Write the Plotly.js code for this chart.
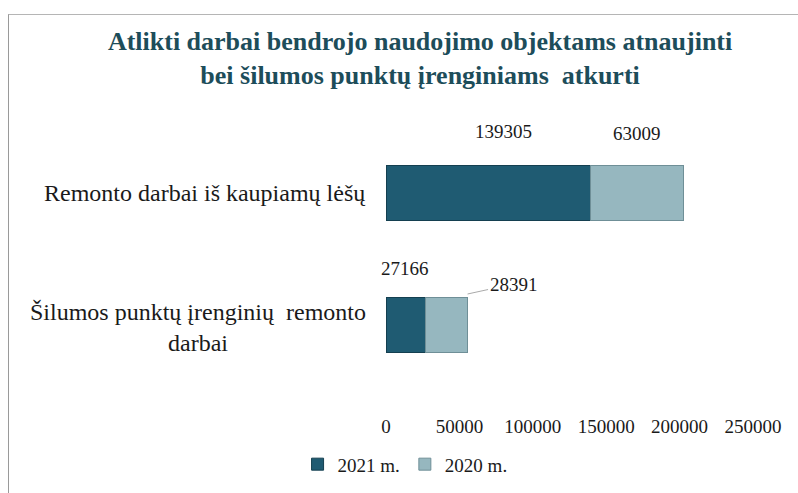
<!DOCTYPE html>
<html>
<head>
<meta charset="utf-8">
<script src="https://cdn.plot.ly/plotly-3.0.1.min.js"></script>
<style>
html,body{margin:0;padding:0;background:#fff;width:798px;height:493px;overflow:hidden;}
#frame{position:absolute;left:8px;top:14px;width:790px;height:479px;border-left:1px solid #9a9a9a;border-top:1px solid #b5b5b5;}
#chart{width:789px;height:478px;}
</style>
</head>
<body>
<div id="frame"><div id="chart"></div></div>
<script>
const categories = ["Remonto darbai iš kaupiamų lėšų", "Šilumos punktų įrenginių  remonto<br>darbai"];
const seriesNames = ["2021 m.", "2020 m."];
const values2021 = [139305, 27166];
const values2020 = [63009, 28391];
const tickValues = [0, 50000, 100000, 150000, 200000, 250000];

const serif = "Liberation Serif";
const catIdx = categories.map((c, i) => i);

const traces = [
  {type: "bar", orientation: "h", name: seriesNames[0], y: catIdx, x: values2021,
   marker: {color: "#1f5b72", line: {color: "#143f50", width: 1}}, hoverinfo: "x"},
  {type: "bar", orientation: "h", name: seriesNames[1], y: catIdx, x: values2020,
   marker: {color: "#96b7bf", line: {color: "#6f8f97", width: 1}}, hoverinfo: "x"}
];

const annotations = [];
categories.forEach((c, i) => {
  annotations.push({xref: "x", yref: "y", x: 0, y: i, text: c, showarrow: false,
    xanchor: "right", yanchor: "middle", align: "center", xshift: -18, yshift: i === 1 ? -2 : 0,
    font: {family: serif, size: 24, color: "#1a1a1a"}});
});
const shifts2021 = [{dx: 15, dy: 62}, {dx: -1, dy: 57}];
values2021.forEach((v, i) => {
  annotations.push({xref: "x", yref: "y", x: v / 2, y: i, text: String(v), showarrow: false,
    xanchor: "center", yanchor: "middle", xshift: shifts2021[i].dx, yshift: shifts2021[i].dy,
    font: {family: serif, size: 19, color: "#1a1a1a"}});
});
annotations.push({xref: "x", yref: "y", x: values2021[0] + values2020[0] / 2, y: 0,
  text: String(values2020[0]), showarrow: false, xanchor: "center", yanchor: "middle",
  yshift: 60, font: {family: serif, size: 19, color: "#1a1a1a"}});
annotations.push({xref: "x", yref: "y", x: values2021[1] + values2020[1], y: 1,
  text: String(values2020[1]), showarrow: true, arrowhead: 0, arrowwidth: 1, arrowcolor: "#aaaaaa",
  ax: 46, ay: -10, yshift: 31, standoff: 0,
  font: {family: serif, size: 19, color: "#1a1a1a"}});

const layout = {
  width: 789, height: 478,
  margin: {l: 377, r: 45, t: 112, b: 102},
  paper_bgcolor: "#ffffff", plot_bgcolor: "#ffffff",
  title: {text: "Atlikti darbai bendrojo naudojimo objektams atnaujinti<br>bei šilumos punktų įrenginiams  atkurti",
    font: {family: serif, size: 26, color: "#1d4d5a", weight: "bold"},
    xref: "container", x: 0.521, xanchor: "center",
    yref: "container", y: 0.927, yanchor: "top"},
  barmode: "stack",
  bargap: 0.59,
  xaxis: {range: [0, 250000], tickvals: tickValues, ticktext: tickValues.map(String),
    showgrid: false, zeroline: false, showline: false, ticks: "",
    ticklabelstandoff: 22,
    tickfont: {family: serif, size: 19, color: "#1a1a1a"}, fixedrange: true},
  yaxis: {range: [1.5, -0.5], showticklabels: false, showgrid: false, zeroline: false,
    showline: false, ticks: "", fixedrange: true},
  showlegend: true,
  legend: {orientation: "h", xref: "container", yref: "container", x: 0.502, xanchor: "center",
    y: 0.06, yanchor: "middle", traceorder: "normal",
    font: {family: serif, size: 19, color: "#1a1a1a"}, itemwidth: 30},
  annotations: annotations
};

Plotly.newPlot("chart", traces, layout, {displayModeBar: false, staticPlot: true});
</script>
</body>
</html>
